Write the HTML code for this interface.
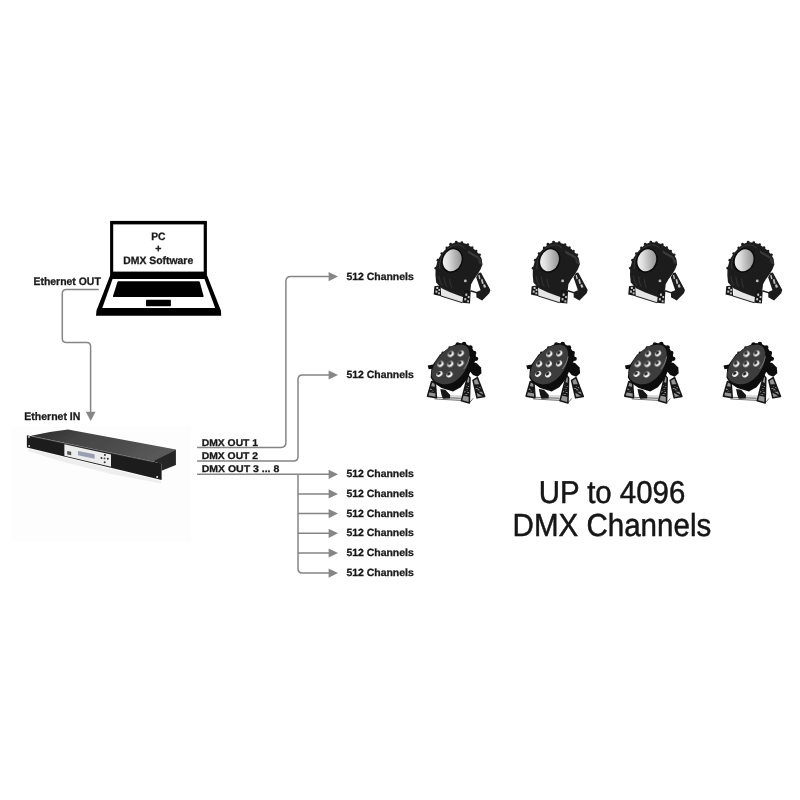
<!DOCTYPE html>
<html>
<head>
<meta charset="utf-8">
<title>DMX diagram</title>
<style>
  html, body { margin: 0; padding: 0; background: #ffffff; }
  body { width: 800px; height: 800px; overflow: hidden; position: relative;
         font-family: "Liberation Sans", sans-serif; }
  svg { position: absolute; left: 0; top: 0; }
  .b { text-rendering: geometricPrecision; font-family: "Liberation Sans", sans-serif; font-weight: bold; fill: #1a1a1a; stroke: #1a1a1a; stroke-width: 0.3; }
  .big { text-rendering: geometricPrecision; font-family: "Liberation Sans", sans-serif; font-weight: normal; fill: #141414; stroke: #141414; stroke-width: 0.45; }
  .ln { fill: none; stroke: #858585; stroke-width: 1.5; }
  .ah { fill: #868686; stroke: none; }
</style>
</head>
<body>
<svg width="800" height="800" viewBox="0 0 800 800">
  <defs>
    <filter id="soft" x="-5%" y="-5%" width="110%" height="110%"><feGaussianBlur stdDeviation="0.35"/></filter>
    <filter id="soft2" x="-10%" y="-10%" width="120%" height="120%"><feGaussianBlur stdDeviation="0.6"/></filter>
  </defs>

  <!-- faint photo backdrop behind rack unit -->
  <rect x="11" y="427" width="180" height="114" fill="#fdfdfd"/>

  <!-- ===== Rack unit (photo approximation) ===== -->
  <defs>
    <linearGradient id="topg" x1="0" y1="0" x2="1" y2="0.35">
      <stop offset="0" stop-color="#2a2a2a"/>
      <stop offset="0.35" stop-color="#444444"/>
      <stop offset="0.75" stop-color="#4e4e4e"/>
      <stop offset="1" stop-color="#585858"/>
    </linearGradient>
    <linearGradient id="shad" x1="0" y1="0" x2="0" y2="1">
      <stop offset="0" stop-color="#d9d9d9"/>
      <stop offset="1" stop-color="#fdfdfd"/>
    </linearGradient>
  </defs>
  <g id="rack" filter="url(#soft2)">
    <!-- soft reflection under the unit -->
    <polygon points="28,448.6 161,481 161,483.6 110,473.8 60,461 28,451" fill="#eeeeee" filter="url(#soft2)"/>
    <!-- top face -->
    <polygon points="31,435.8 50,432 68,429.6 175.9,449.4 152.8,461.5" fill="url(#topg)"/>
    <!-- right side face -->
    <polygon points="152.8,461.3 175.9,449.4 175.9,465 161.6,470.8 161.6,464" fill="#262626"/>
    <!-- front face with ears -->
    <polygon points="26.9,435.3 161.6,463.4 161.6,480.1 26.9,447.6" fill="#1f1f1f"/>
    <!-- top-edge highlight -->
    <path d="M33,436.6 L152.6,461.8" stroke="#5a5a5a" stroke-width="0.6" fill="none"/>
    <!-- white control panel -->
    <polygon points="64.4,444.2 111,454.4 111,466.7 64.4,455.7" fill="#ececec"/>
    <polygon points="78,451 94.6,454.2 94.6,458.8 78,455.2" fill="#979fb1"/>
    <polygon points="67.2,451 71.2,451.8 71.2,455.2 67.2,454.4" fill="#555"/>
    <circle cx="104.9" cy="454.9" r="1" fill="#333"/>
    <circle cx="101.5" cy="458" r="1" fill="#333"/>
    <circle cx="104.5" cy="458.4" r="0.9" fill="#444"/>
    <circle cx="107.8" cy="458.8" r="1" fill="#333"/>
    <circle cx="104.7" cy="462.3" r="1" fill="#333"/>
    <!-- ear holes -->
    <circle cx="29" cy="436.9" r="0.9" fill="#e6e6e6"/>
    <circle cx="29.2" cy="445.9" r="0.9" fill="#e6e6e6"/>
    <circle cx="157.2" cy="476.9" r="1" fill="#f0f0f0"/>
  </g>

  <!-- ===== Laptop ===== -->
  <g id="laptop" filter="url(#soft)">
    <rect x="110.1" y="220.9" width="96.8" height="57" fill="#050505"/>
    <rect x="113.2" y="224.4" width="90.5" height="47.2" fill="#ffffff"/>
    <polygon points="110.1,275.5 207.1,275.5 220.9,310.5 221.2,315.7 96,315.7 96.5,310.5" fill="#050505"/>
    <polygon points="112.6,279 204.5,279 215.2,307.9 102.3,307.9" fill="#ffffff"/>
    <path d="M118.4,281.2 H198.8 Q199.5,281.2 199.8,282 L203.6,296 Q203.9,296.9 203,296.9 H113.6 Q112.7,296.9 113,296 L117.4,282 Q117.7,281.2 118.4,281.2 Z" fill="#050505"/>
    <rect x="146" y="299.8" width="24.9" height="6.4" rx="0.8" fill="#050505"/>
  </g>
  <g filter="url(#soft)">
    <text class="b" x="151.2" y="240.4" font-size="10.7" textLength="14.3" lengthAdjust="spacingAndGlyphs">PC</text>
    <text class="b" x="158.4" y="252.1" font-size="10.6" text-anchor="middle">+</text>
    <text class="b" x="123.3" y="263.8" font-size="10.7" textLength="69.9" lengthAdjust="spacingAndGlyphs">DMX Software</text>
  </g>

  <!-- ===== Ethernet link ===== -->
  <g filter="url(#soft)">
    <text class="b" x="33.5" y="284.9" font-size="10.9" textLength="67.3" lengthAdjust="spacingAndGlyphs">Ethernet OUT</text>
    <text class="b" x="24.3" y="420" font-size="10.9" textLength="56" lengthAdjust="spacingAndGlyphs">Ethernet IN</text>
    <path class="ln" d="M98.8,289.5 H66.3 Q62.3,289.5 62.3,293.5 V338.5 Q62.3,342.5 66.3,342.5 H86.6 Q90.6,342.5 90.6,346.5 V413"/>
    <polygon class="ah" points="85.8,411.8 95.6,411.8 90.7,420.9"/>
  </g>

  <!-- ===== DMX outputs ===== -->
  <g filter="url(#soft)">
    <text class="b" x="201.7" y="445.9" font-size="9.7" textLength="56.4" lengthAdjust="spacingAndGlyphs">DMX OUT 1</text>
    <text class="b" x="201.7" y="459" font-size="9.7" textLength="56.4" lengthAdjust="spacingAndGlyphs">DMX OUT 2</text>
    <text class="b" x="201.7" y="472.1" font-size="9.7" textLength="77.6" lengthAdjust="spacingAndGlyphs">DMX OUT 3 ... 8</text>
    <path class="ln" d="M197.1,447.5 H281 Q285.9,447.5 285.9,442.6 V281.5 Q285.9,276.6 290.8,276.6 H330"/>
    <path class="ln" d="M197.1,460.9 H293.5 Q298,460.9 298,456.4 V379.5 Q298,375 302.5,375 H330"/>
    <path class="ln" d="M197.1,474.3 H330"/>
    <path class="ln" d="M298,474.3 V568.6 Q298,573.1 302.5,573.1 H330"/>
    <path class="ln" d="M298,493.9 H330 M298,513.6 H330 M298,533.3 H330 M298,553 H330"/>
    <g id="heads">
      <polygon class="ah" points="328.6,272.0 338,276.6 328.6,281.2"/>
      <polygon class="ah" points="328.6,370.4 338,375.0 328.6,379.6"/>
      <polygon class="ah" points="328.6,469.7 338,474.3 328.6,478.9"/>
      <polygon class="ah" points="328.6,489.3 338,493.9 328.6,498.5"/>
      <polygon class="ah" points="328.6,509.0 338,513.6 328.6,518.2"/>
      <polygon class="ah" points="328.6,528.7 338,533.3 328.6,537.9"/>
      <polygon class="ah" points="328.6,548.4 338,553.0 328.6,557.6"/>
      <polygon class="ah" points="328.6,568.5 338,573.1 328.6,577.7"/>
    </g>
    <g font-size="10.4">
      <text class="b" x="346.4" y="279.65" textLength="67.4" lengthAdjust="spacingAndGlyphs">512 Channels</text>
      <text class="b" x="346.4" y="378.05" textLength="67.4" lengthAdjust="spacingAndGlyphs">512 Channels</text>
      <text class="b" x="346.4" y="477.35" textLength="67.4" lengthAdjust="spacingAndGlyphs">512 Channels</text>
      <text class="b" x="346.4" y="496.95" textLength="67.4" lengthAdjust="spacingAndGlyphs">512 Channels</text>
      <text class="b" x="346.4" y="516.65" textLength="67.4" lengthAdjust="spacingAndGlyphs">512 Channels</text>
      <text class="b" x="346.4" y="536.35" textLength="67.4" lengthAdjust="spacingAndGlyphs">512 Channels</text>
      <text class="b" x="346.4" y="556.05" textLength="67.4" lengthAdjust="spacingAndGlyphs">512 Channels</text>
      <text class="b" x="346.4" y="576.15" textLength="67.4" lengthAdjust="spacingAndGlyphs">512 Channels</text>
    </g>
  </g>

  <!-- ===== Lights (photo approximations) ===== -->
  <defs>
    <linearGradient id="lens" x1="0" y1="0.75" x2="1" y2="0.2">
      <stop offset="0" stop-color="#f4f4f4"/>
      <stop offset="0.3" stop-color="#dedede"/>
      <stop offset="0.65" stop-color="#b2b2b2"/>
      <stop offset="1" stop-color="#8a8a8a"/>
    </linearGradient>
    <linearGradient id="ledg" x1="0.1" y1="0" x2="0.9" y2="1">
      <stop offset="0" stop-color="#3a3a3a"/>
      <stop offset="0.38" stop-color="#5a5a5a"/>
      <stop offset="0.62" stop-color="#ececec"/>
      <stop offset="1" stop-color="#ffffff"/>
    </linearGradient>
    <filter id="ph" x="-10%" y="-10%" width="120%" height="120%"><feGaussianBlur stdDeviation="6"/></filter>
    <!-- COB par, drawn on an 800-unit canvas = 70px -->
    <g id="parA">
      <g filter="url(#ph)">
        <!-- floor reflection -->
        <polygon points="132,548 229,594 320,629 384,652 370,712 134,642" fill="#e6e6e6"/>
        <!-- base bars -->
        <path d="M125,640 L371,716" stroke="#2a2a2a" stroke-width="12" fill="none"/>
        <!-- body -->
        <path d="M64,322 L88,232 L134,154 L194,88 L238,48 L300,24 L368,32 L420,45 L500,100 L560,160 L590,215 L600,280 L578,335 L545,392 L500,450 L470,505 L462,575 L440,610 L384,654 L320,631 L229,596 L132,550 L70,486 L62,400 Z" fill="#1d1d1d"/>
        <!-- cooling-fin bumps around the rim -->
        <circle cx="66" cy="322" r="15" fill="#1d1d1d"/><circle cx="90" cy="230" r="15" fill="#1d1d1d"/>
        <circle cx="134" cy="154" r="15" fill="#1d1d1d"/><circle cx="192" cy="90" r="15" fill="#1d1d1d"/>
        <circle cx="236" cy="48" r="16" fill="#1d1d1d"/><circle cx="300" cy="24" r="16" fill="#1d1d1d"/>
        <circle cx="364" cy="30" r="16" fill="#1d1d1d"/>
        <circle cx="432" cy="50" r="14" fill="#1d1d1d"/><circle cx="482" cy="86" r="14" fill="#1d1d1d"/>
        <circle cx="528" cy="126" r="14" fill="#1d1d1d"/><circle cx="568" cy="168" r="14" fill="#1d1d1d"/>
        <!-- bezel rim highlight -->
        <path d="M112,330 C96,240 150,120 260,66 C320,44 372,60 398,96" stroke="#3c3c3c" stroke-width="10" fill="none"/>
        <!-- housing highlights -->
        <path d="M432,118 L560,192 L568,222 L438,150 Z" fill="#3a3a3a"/>
        <path d="M545,200 L590,225 L596,282 L556,262 Z" fill="#333"/>
        <path d="M100,410 C110,460 120,500 140,520 M160,420 C165,470 175,510 195,535 M225,440 C228,480 235,520 250,545" stroke="#303030" stroke-width="14" fill="none"/>
        <!-- left foot -->
        <polygon points="50,528 122,518 128,642 42,622" fill="#181818"/>
        <!-- mid foot -->
        <polygon points="388,566 466,584 457,726 370,716" fill="#181818"/>
        <!-- right truss -->
        <polygon points="528,425 556,378 582,370 690,570 678,608 596,690 530,654 530,594 578,574" fill="#1a1a1a"/>
        <path d="M462,580 L540,604" stroke="#1a1a1a" stroke-width="16" fill="none"/>
        <!-- lens -->
        <ellipse cx="254" cy="232" rx="122" ry="146" transform="rotate(21.6 254 232)" fill="#0b0b0b"/>
        <ellipse cx="254" cy="232" rx="104" ry="128" transform="rotate(21.6 254 232)" fill="url(#lens)"/>
      </g>
      <g filter="url(#ph)" opacity="0.9">
        <!-- small holes / glints -->
        <circle cx="404" cy="468" r="16" fill="#d0d0d0"/>
        <rect x="72" y="536" width="22" height="24" fill="#d8d8d8"/><rect x="96" y="560" width="20" height="22" fill="#d0d0d0"/>
        <rect x="62" y="578" width="22" height="24" fill="#d8d8d8"/><rect x="92" y="598" width="22" height="22" fill="#d0d0d0"/>
        <rect x="404" y="612" width="22" height="26" fill="#d5d5d5"/><rect x="432" y="640" width="20" height="24" fill="#d5d5d5"/>
        <rect x="392" y="664" width="22" height="26" fill="#d5d5d5"/><rect x="424" y="690" width="22" height="22" fill="#d5d5d5"/>
        <polygon points="552,404 566,398 578,442 562,448" fill="#d8d8d8"/>
        <polygon points="582,452 600,446 614,498 594,504" fill="#d8d8d8"/>
        <polygon points="606,510 628,506 642,540 616,546" fill="#d8d8d8"/>
      </g>
    </g>
    <!-- 9-LED par, drawn on an 800-unit canvas = 70px -->
    <g id="parB">
      <g filter="url(#ph)">
        <!-- floor reflection + base -->
        <polygon points="300,650 430,655 436,708 290,700" fill="#d9d9d9"/>
        <path d="M120,696 L430,714 L520,740 M522,738 L562,690 M150,678 L420,689" stroke="#4a4a4a" stroke-width="9" fill="none"/>
        <!-- stands (lattice) -->
        <g stroke="#171717" stroke-width="18" fill="#949494" stroke-linejoin="round" stroke-linecap="round">
          <path d="M88,497 L40,664 L142,682 L130,517 Z M72,556 L134,568 M56,612 L138,626 M72,556 L138,626 M134,568 L56,612"/>
          <path d="M502,424 L428,716 L518,742 L526,456 Z M480,512 L524,522 M464,580 L522,594 M446,648 L520,666 M480,512 L522,594 M464,580 L520,666 M524,522 L464,580 M522,594 L446,648"/>
          <path d="M560,484 L606,684 L694,668 L610,452 Z M572,540 L644,536 M588,606 L668,602 M572,540 L668,602 M644,536 L588,606 M588,606 L694,668"/>
        </g>
        <polygon points="186,584 244,590 300,650 296,690 216,694 200,650" fill="#141414"/>
        <!-- rear housing + fins -->
        <polygon points="535,270 600,285 652,338 657,402 612,442 560,424 525,380" fill="#0f0f0f"/>
        <circle cx="385" cy="72" r="24" fill="#111"/><circle cx="458" cy="68" r="26" fill="#111"/>
        <circle cx="530" cy="108" r="26" fill="#111"/><circle cx="572" cy="172" r="26" fill="#111"/>
        <circle cx="596" cy="238" r="24" fill="#111"/>
        <circle cx="216" cy="172" r="17" fill="#151515"/><circle cx="296" cy="112" r="17" fill="#151515"/>
        <!-- knob -->
        <polygon points="42,314 120,300 140,346 54,356" fill="#0c0c0c"/>
        <!-- body (disc edge) -->
        <path d="M84,352 L76,452 L112,512 L200,572 L332,612 L420,562 L492,470 L540,362 L562,300 L600,240 L590,190 L560,130 L520,90 L470,62 L400,56 L300,100 L180,190 L110,290 Z" fill="#0f0f0f"/>
        <!-- face -->
        <path d="M86,430 C84,380 110,300 160,232 C200,180 250,130 300,105 C360,80 440,60 490,100 C530,140 530,240 490,330 C450,420 380,490 300,520 C220,545 108,512 86,430 Z" fill="#3e3e3e"/>
      </g>
      <g filter="url(#ph)">
        <ellipse cx="306" cy="183" rx="38" ry="29" transform="rotate(-35 306 183)" fill="#f4f4f4"/><ellipse cx="297" cy="174" rx="25" ry="18" transform="rotate(-35 297 174)" fill="#4c4c4c"/><circle cx="300" cy="174" r="10" fill="#101010"/>
        <ellipse cx="420" cy="177" rx="38" ry="29" transform="rotate(-35 420 177)" fill="#f4f4f4"/><ellipse cx="411" cy="168" rx="25" ry="18" transform="rotate(-35 411 168)" fill="#4c4c4c"/><circle cx="414" cy="168" r="10" fill="#101010"/>
        <ellipse cx="189" cy="297" rx="38" ry="29" transform="rotate(-35 189 297)" fill="#f4f4f4"/><ellipse cx="180" cy="288" rx="25" ry="18" transform="rotate(-35 180 288)" fill="#4c4c4c"/><circle cx="183" cy="288" r="10" fill="#101010"/>
        <ellipse cx="300" cy="297" rx="38" ry="29" transform="rotate(-35 300 297)" fill="#f4f4f4"/><ellipse cx="291" cy="288" rx="25" ry="18" transform="rotate(-35 291 288)" fill="#4c4c4c"/><circle cx="294" cy="288" r="10" fill="#101010"/>
        <ellipse cx="417" cy="291" rx="38" ry="29" transform="rotate(-35 417 291)" fill="#f4f4f4"/><ellipse cx="408" cy="282" rx="25" ry="18" transform="rotate(-35 408 282)" fill="#4c4c4c"/><circle cx="411" cy="282" r="10" fill="#101010"/>
        <ellipse cx="177" cy="411" rx="38" ry="29" transform="rotate(-35 177 411)" fill="#f4f4f4"/><ellipse cx="168" cy="402" rx="25" ry="18" transform="rotate(-35 168 402)" fill="#4c4c4c"/><circle cx="171" cy="402" r="10" fill="#101010"/>
        <ellipse cx="291" cy="417" rx="38" ry="29" transform="rotate(-35 291 417)" fill="#f4f4f4"/><ellipse cx="282" cy="408" rx="25" ry="18" transform="rotate(-35 282 408)" fill="#4c4c4c"/><circle cx="285" cy="408" r="10" fill="#101010"/>
      </g>
      <g filter="url(#ph)" opacity="0.92">
        <!-- rim highlight -->
        <path d="M521,210 C512,260 490,310 455,354" stroke="#a0a0a0" stroke-width="8" fill="none"/>
      </g>
    </g>
  </defs>
  <use href="#parA" transform="translate(430,240) scale(0.0875)"/>
  <use href="#parA" transform="translate(527.3,240) scale(0.0875)"/>
  <use href="#parA" transform="translate(624.6,240) scale(0.0875)"/>
  <use href="#parA" transform="translate(721.9,240) scale(0.0875)"/>
  <use href="#parB" transform="translate(424,338) scale(0.0875)"/>
  <use href="#parB" transform="translate(522.6,338) scale(0.0875)"/>
  <use href="#parB" transform="translate(621.2,338) scale(0.0875)"/>
  <use href="#parB" transform="translate(719.8,338) scale(0.0875)"/>

  <!-- ===== Headline ===== -->
  <g filter="url(#soft)">
    <text class="big" transform="translate(612,503) scale(1,1.078)" font-size="29.4" text-anchor="middle">UP to 4096</text>
    <text class="big" transform="translate(611.9,535.6) scale(1,1.078)" font-size="29.55" text-anchor="middle">DMX Channels</text>
  </g>
</svg>
</body>
</html>
